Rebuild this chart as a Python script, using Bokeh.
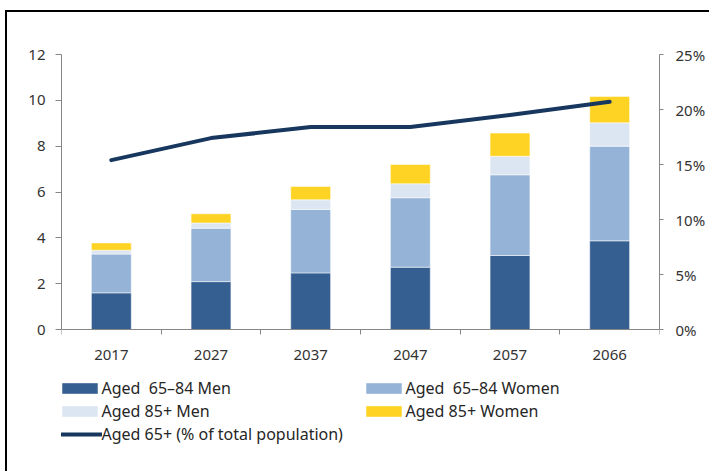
from bokeh.plotting import figure
from bokeh.models import (Range1d, LinearAxis, FixedTicker, PrintfTickFormatter,
                          Legend, LegendItem)
from bokeh.embed import file_html
from bokeh.resources import INLINE

years = ["2017", "2027", "2037", "2047", "2057", "2066"]
men_65_84 = [1.60, 2.09, 2.47, 2.72, 3.23, 3.87]
women_65_84 = [1.69, 2.33, 2.77, 3.03, 3.52, 4.13]
men_85 = [0.17, 0.23, 0.42, 0.61, 0.81, 1.02]
women_85 = [0.32, 0.40, 0.58, 0.84, 1.01, 1.15]
share_65 = [15.4, 17.4, 18.4, 18.4, 19.5, 20.7]

left_ticks = [0, 2, 4, 6, 8, 10, 12]
right_ticks = [0, 5, 10, 15, 20, 25]

colors = ["#365f91", "#95b3d7", "#dce6f2", "#ffd324"]
line_color = "#17375e"
axis_color = "#868686"
font = "Noto Sans"
txt = "#333333"

xs = [i + 0.5 for i in range(len(years))]
data = dict(x=xs, m1=men_65_84, w1=women_65_84, m2=men_85, w2=women_85, s=share_65)

# layout (pixels)
W, H = 709, 471
top_px, zero_px, bottom_px = 54, 329, 465
left_max, right_max = left_ticks[-1], right_ticks[-1]
left_min = -left_max * (bottom_px - zero_px) / (zero_px - top_px)
right_min = -right_max * (bottom_px - zero_px) / (zero_px - top_px)

border_css = ("linear-gradient(#000, #000) 5px 10px / 2px 100% no-repeat, "
              "linear-gradient(#000, #000) 5px 10px / 100% 2px no-repeat, #ffffff")
p = figure(width=W, height=H, output_backend="svg", toolbar_location=None,
           x_range=Range1d(0, len(years)), y_range=Range1d(left_min, left_max),
           min_border_left=61, min_border_right=50, min_border_top=top_px,
           min_border_bottom=H - bottom_px,
           styles={"background": border_css})
p.border_fill_color = None
p.background_fill_color = None
p.outline_line_color = None
p.xgrid.visible = False
p.ygrid.visible = False
p.extra_y_ranges = {"pct": Range1d(right_min, right_max)}

renderers = p.vbar_stack(["m1", "w1", "m2", "w2"], x="x", width=0.4, source=data,
                         color=colors, line_color="white", line_alpha=0.5, line_width=1)
ln = p.line(x="x", y="s", source=data, y_range_name="pct", line_color=line_color,
            line_width=4, line_cap="round", line_join="round")

# x axis drawn at y = 0
xa = p.xaxis[0]
xa.fixed_location = 0
xa.ticker = FixedTicker(ticks=xs, minor_ticks=list(range(len(years) + 1)))
xa.major_label_overrides = {x: y for x, y in zip(xs, years)}
xa.major_tick_out = 0
xa.major_tick_in = 0
xa.minor_tick_out = 5
xa.minor_tick_in = 0
xa.major_label_standoff = 15

# left axis
ya = p.yaxis[0]
ya.bounds = (0, left_max)
ya.ticker = FixedTicker(ticks=left_ticks, minor_ticks=[])
ya.major_tick_out = 6
ya.major_tick_in = 0
ya.minor_tick_out = 0
ya.major_label_standoff = 10

# right axis
ra = LinearAxis(y_range_name="pct", ticker=FixedTicker(ticks=right_ticks, minor_ticks=[]),
                formatter=PrintfTickFormatter(format="%d%%"), bounds=(0, right_max))
ra.major_tick_out = 4
ra.major_tick_in = 0
ra.minor_tick_out = 0
ra.major_label_standoff = 12
p.add_layout(ra, "right")

for ax in [xa, ya, ra]:
    ax.axis_line_color = axis_color
    ax.major_tick_line_color = axis_color
    ax.minor_tick_line_color = axis_color
    ax.major_label_text_font = font
    ax.major_label_text_font_size = "15px"
    ax.major_label_text_color = txt

items = [
    LegendItem(label="Aged  65\u201384 Men", renderers=[renderers[0]]),
    LegendItem(label="Aged  65\u201384 Women", renderers=[renderers[1]]),
    LegendItem(label="Aged 85+ Men", renderers=[renderers[2]]),
    LegendItem(label="Aged 85+ Women", renderers=[renderers[3]]),
    LegendItem(label="Aged 65+ (% of total population)", renderers=[ln]),
]
legend = Legend(items=items, ncols=2, location=(-4.5, 20.5), orientation="horizontal",
                glyph_width=45, glyph_height=14, label_standoff=0, spacing=1,
                label_width=258, label_height=19,
                padding=0, margin=0, border_line_color=None, background_fill_alpha=0,
                label_text_font=font, label_text_font_size="16px", label_text_color="#262626")
p.add_layout(legend, "center")

open("out.html", "w").write(file_html(p, INLINE))
